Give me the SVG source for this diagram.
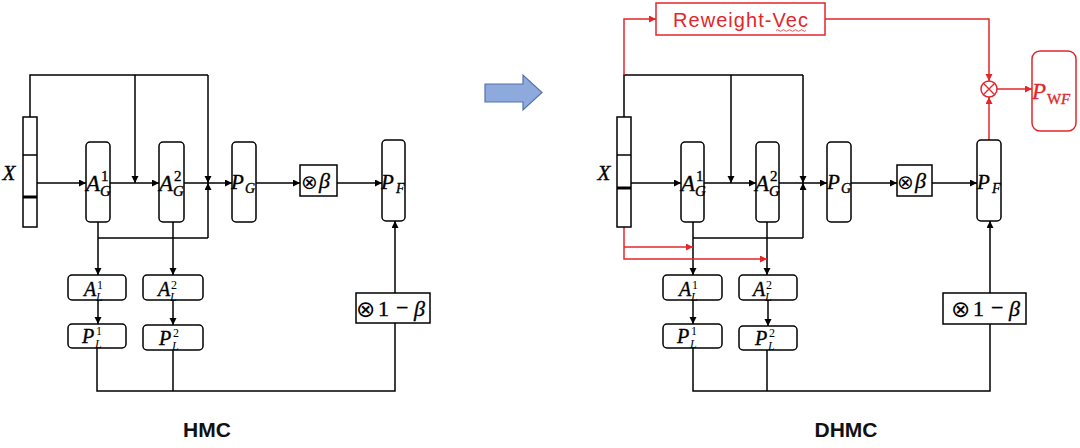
<svg xmlns="http://www.w3.org/2000/svg" width="1080" height="448" viewBox="0 0 1080 448">
<defs>
<marker id="ab" markerUnits="userSpaceOnUse" markerWidth="8" markerHeight="8" refX="7" refY="3.5" orient="auto"><path d="M0,0 L7,3.5 L0,7 z" fill="#000"/></marker>
<marker id="ar" markerUnits="userSpaceOnUse" markerWidth="8" markerHeight="8" refX="7" refY="3.5" orient="auto"><path d="M0,0 L7,3.5 L0,7 z" fill="#E3262B"/></marker>
</defs>
<style>
.ln{stroke:#000;stroke-width:1.5;fill:none}
.rl{stroke:#E3262B;stroke-width:1.5;fill:none}
.bx{fill:#fff;stroke:#000;stroke-width:1.5}
.rb{fill:#fff;stroke:#E3262B;stroke-width:1.5}
.m{font-family:"Liberation Serif","Times New Roman",serif;font-style:italic;fill:#000;stroke:#000;stroke-width:0.35}
.s{stroke:none}
.n{font-style:normal}
.op{font-family:"DejaVu Sans",sans-serif;fill:#000}
.red{fill:#E3262B;stroke:#E3262B}
.cap{font-family:"Liberation Sans",Arial,sans-serif;font-weight:bold;font-size:21px;fill:#111;text-anchor:middle}
</style>
<rect width="1080" height="448" fill="#fff"/>

<!-- ===== Connectors ===== -->
<g id="connectors">
  <!-- HMC -->
  <path class="ln" d="M30,117 V75 H208"/>
  <path class="ln" d="M135,75 V183" marker-end="url(#ab)"/>
  <path class="ln" d="M208,75 V183" marker-end="url(#ab)"/>
  <path class="ln" d="M37,183 H86" marker-end="url(#ab)"/>
  <path class="ln" d="M110,183 H159" marker-end="url(#ab)"/>
  <path class="ln" d="M184,183 H232" marker-end="url(#ab)"/>
  <path class="ln" d="M256,183 H300" marker-end="url(#ab)"/>
  <path class="ln" d="M337,183 H382" marker-end="url(#ab)"/>
  <path class="ln" d="M98,238 H208"/>
  <path class="ln" d="M208,238 V183" marker-end="url(#ab)"/>
  <path class="ln" d="M98,222 V275" marker-end="url(#ab)"/>
  <path class="ln" d="M173,222 V275" marker-end="url(#ab)"/>
  <path class="ln" d="M98,300 V324" marker-end="url(#ab)"/>
  <path class="ln" d="M173,300 V325" marker-end="url(#ab)"/>
  <path class="ln" d="M97,348 V391 H395 V323"/>
  <path class="ln" d="M173,350 V391"/>
  <path class="ln" d="M395,293 V221" marker-end="url(#ab)"/>

  <!-- DHMC -->
  <path class="ln" d="M624,117 V75 H803"/>
  <path class="ln" d="M731,75 V183" marker-end="url(#ab)"/>
  <path class="ln" d="M803,75 V183" marker-end="url(#ab)"/>
  <path class="ln" d="M631,183 H681" marker-end="url(#ab)"/>
  <path class="ln" d="M704,183 H756" marker-end="url(#ab)"/>
  <path class="ln" d="M779,183 H827" marker-end="url(#ab)"/>
  <path class="ln" d="M851,183 H897" marker-end="url(#ab)"/>
  <path class="ln" d="M932,183 H977" marker-end="url(#ab)"/>
  <path class="ln" d="M693,238 H803"/>
  <path class="ln" d="M803,238 V183" marker-end="url(#ab)"/>
  <path class="ln" d="M693,222 V275" marker-end="url(#ab)"/>
  <path class="ln" d="M767,222 V275" marker-end="url(#ab)"/>
  <path class="ln" d="M693,300 V324" marker-end="url(#ab)"/>
  <path class="ln" d="M768,300 V326" marker-end="url(#ab)"/>
  <path class="ln" d="M693,348 V391 H990 V324"/>
  <path class="ln" d="M767,350 V391"/>
  <path class="ln" d="M990,293 V221" marker-end="url(#ab)"/>
  <!-- red -->
  <path class="rl" d="M624,75 V19 H656" marker-end="url(#ar)"/>
  <path class="rl" d="M624,227 V259 H767" marker-end="url(#ar)"/>
  <path class="rl" d="M624,247 H693" marker-end="url(#ar)"/>
  <path class="rl" d="M825,19 H989 V81" marker-end="url(#ar)"/>
  <path class="rl" d="M989,140 V97" marker-end="url(#ar)"/>
  <path class="rl" d="M997,89 H1032" marker-end="url(#ar)"/>
</g>

<!-- ===== HMC nodes ===== -->
<g id="hmc-x">
  <rect class="bx" x="23" y="117" width="14" height="110"/>
  <line class="ln" x1="23" y1="155" x2="37" y2="155"/>
  <line x1="23" y1="197" x2="37" y2="197" stroke="#000" stroke-width="3"/>
  <text class="m" x="9" y="180" font-size="21" text-anchor="middle">X</text>
</g>
<g id="hmc-ag1">
  <rect class="bx" x="86" y="142" width="24" height="80" rx="4"/>
  <text class="m" x="86" y="191" font-size="23">A</text>
  <text class="m n" x="101" y="181" font-size="15">1</text>
  <text class="m" x="100" y="196" font-size="15">G</text>
</g>
<g id="hmc-ag2">
  <rect class="bx" x="159" y="142" width="25" height="80" rx="4"/>
  <text class="m" x="159" y="191" font-size="23">A</text>
  <text class="m n" x="174" y="181" font-size="15">2</text>
  <text class="m" x="173" y="196" font-size="15">G</text>
</g>
<g id="hmc-pg">
  <rect class="bx" x="232" y="142" width="24" height="80" rx="4"/>
  <text class="m" x="231" y="189" font-size="21">P</text>
  <text class="m" x="245" y="193" font-size="14">G</text>
</g>
<g id="hmc-beta">
  <rect class="bx" x="300" y="165" width="37" height="31"/>
  <text class="op" x="301" y="189" font-size="20">⊗</text>
  <text class="m" x="319" y="188" font-size="22">β</text>
</g>
<g id="hmc-pf">
  <rect class="bx" x="382" y="140" width="23" height="81" rx="4"/>
  <text class="m" x="381" y="189" font-size="21">P</text>
  <text class="m" x="396" y="193" font-size="14">F</text>
</g>
<g id="hmc-al1">
  <rect class="bx" x="68" y="275" width="58" height="25" rx="4"/>
  <text class="m" x="84" y="296" font-size="20">A</text>
  <text class="m n s" x="97" y="288.5" font-size="12">1</text>
  <text class="m s" x="96" y="301" font-size="12">L</text>
</g>
<g id="hmc-al2">
  <rect class="bx" x="143" y="275" width="60" height="25" rx="4"/>
  <text class="m" x="158" y="296" font-size="20">A</text>
  <text class="m n s" x="171" y="288.5" font-size="12">2</text>
  <text class="m s" x="170" y="301" font-size="12">L</text>
</g>
<g id="hmc-pl1">
  <rect class="bx" x="68" y="324" width="58" height="24" rx="4"/>
  <text class="m" x="82" y="343" font-size="20">P</text>
  <text class="m n s" x="96" y="334.5" font-size="12">1</text>
  <text class="m s" x="95" y="348" font-size="12">L</text>
</g>
<g id="hmc-pl2">
  <rect class="bx" x="143" y="325" width="60" height="25" rx="4"/>
  <text class="m" x="159" y="345" font-size="20">P</text>
  <text class="m n s" x="173" y="336.5" font-size="12">2</text>
  <text class="m s" x="172" y="350" font-size="12">L</text>
</g>
<g id="hmc-1mbeta">
  <rect class="bx" x="356" y="293" width="74" height="30"/>
  <text class="op" x="356" y="317" font-size="23">⊗</text>
  <text class="m n" x="378" y="316" font-size="22">1</text>
  <text class="m n" x="396" y="315" font-size="22">−</text>
  <text class="m" x="414" y="316" font-size="22">β</text>
</g>
<text class="cap" x="207" y="437">HMC</text>

<!-- ===== transition arrow ===== -->
<g id="transition">
  <polygon points="485,84 523,84 523,75 542,92.5 523,110 523,102 485,102" fill="#8EA9DB" stroke="#5473AE" stroke-width="1.2"/>
</g>

<!-- ===== DHMC nodes ===== -->
<g id="dhmc-reweight">
  <rect class="rb" x="656" y="3" width="169" height="32"/>
  <text x="740.5" y="27" font-family="Liberation Sans,Arial,sans-serif" font-size="20" text-anchor="middle" textLength="135" lengthAdjust="spacing" fill="#E3262B">Reweight-Vec</text>
  <path d="M776,30.5 q1.5,-1.6 3,0 t3,0 t3,0 t3,0 t3,0 t3,0 t3,0 t3,0 t3,0 t3,0" fill="none" stroke="#E3262B" stroke-width="0.8"/>
</g>
<g id="dhmc-x">
  <rect class="bx" x="617" y="117" width="14" height="110"/>
  <line class="ln" x1="617" y1="155" x2="631" y2="155"/>
  <line x1="617" y1="188" x2="631" y2="188" stroke="#000" stroke-width="3"/>
  <text class="m" x="604" y="180" font-size="21" text-anchor="middle">X</text>
</g>
<g id="dhmc-ag1">
  <rect class="bx" x="681" y="142" width="23" height="80" rx="4"/>
  <text class="m" x="681" y="191" font-size="23">A</text>
  <text class="m n" x="696" y="181" font-size="15">1</text>
  <text class="m" x="695" y="196" font-size="15">G</text>
</g>
<g id="dhmc-ag2">
  <rect class="bx" x="756" y="142" width="23" height="80" rx="4"/>
  <text class="m" x="755" y="191" font-size="23">A</text>
  <text class="m n" x="770" y="181" font-size="15">2</text>
  <text class="m" x="769" y="196" font-size="15">G</text>
</g>
<g id="dhmc-pg">
  <rect class="bx" x="827" y="142" width="24" height="80" rx="4"/>
  <text class="m" x="827" y="189" font-size="21">P</text>
  <text class="m" x="841" y="193" font-size="14">G</text>
</g>
<g id="dhmc-beta">
  <rect class="bx" x="897" y="165" width="35" height="31"/>
  <text class="op" x="897" y="189" font-size="20">⊗</text>
  <text class="m" x="915" y="188" font-size="22">β</text>
</g>
<g id="dhmc-pf">
  <rect class="bx" x="977" y="140" width="24" height="81" rx="4"/>
  <text class="m" x="977" y="189" font-size="21">P</text>
  <text class="m" x="992" y="193" font-size="14">F</text>
</g>
<g id="dhmc-mul">
  <circle cx="989" cy="89" r="8" fill="#fff" stroke="#E3262B" stroke-width="1.5"/>
  <path d="M983.3,83.3 L994.7,94.7 M994.7,83.3 L983.3,94.7" stroke="#E3262B" stroke-width="1.3"/>
</g>
<g id="dhmc-pwf">
  <rect class="rb" x="1032" y="51" width="44" height="80" rx="8"/>
  <text class="m red" x="1032" y="99" font-size="23">P</text>
  <text class="m n red" x="1047" y="104" font-size="15">W</text>
  <text class="m red" x="1061" y="104" font-size="15">F</text>
</g>
<g id="dhmc-al1">
  <rect class="bx" x="663" y="275" width="59" height="25" rx="4"/>
  <text class="m" x="679" y="296" font-size="20">A</text>
  <text class="m n s" x="692" y="288.5" font-size="12">1</text>
  <text class="m s" x="691" y="301" font-size="12">L</text>
</g>
<g id="dhmc-al2">
  <rect class="bx" x="739" y="275" width="58" height="25" rx="4"/>
  <text class="m" x="753" y="296" font-size="20">A</text>
  <text class="m n s" x="766" y="288.5" font-size="12">2</text>
  <text class="m s" x="765" y="301" font-size="12">L</text>
</g>
<g id="dhmc-pl1">
  <rect class="bx" x="663" y="324" width="59" height="24" rx="4"/>
  <text class="m" x="677" y="343" font-size="20">P</text>
  <text class="m n s" x="691" y="334.5" font-size="12">1</text>
  <text class="m s" x="690" y="348" font-size="12">L</text>
</g>
<g id="dhmc-pl2">
  <rect class="bx" x="739" y="326" width="58" height="24" rx="4"/>
  <text class="m" x="755" y="345" font-size="20">P</text>
  <text class="m n s" x="769" y="336.5" font-size="12">2</text>
  <text class="m s" x="768" y="350" font-size="12">L</text>
</g>
<g id="dhmc-1mbeta">
  <rect class="bx" x="943" y="293" width="83" height="31"/>
  <text class="op" x="951" y="317" font-size="23">⊗</text>
  <text class="m n" x="973" y="316" font-size="22">1</text>
  <text class="m n" x="991" y="315" font-size="22">−</text>
  <text class="m" x="1009" y="316" font-size="22">β</text>
</g>
<text class="cap" x="846" y="437">DHMC</text>
</svg>
